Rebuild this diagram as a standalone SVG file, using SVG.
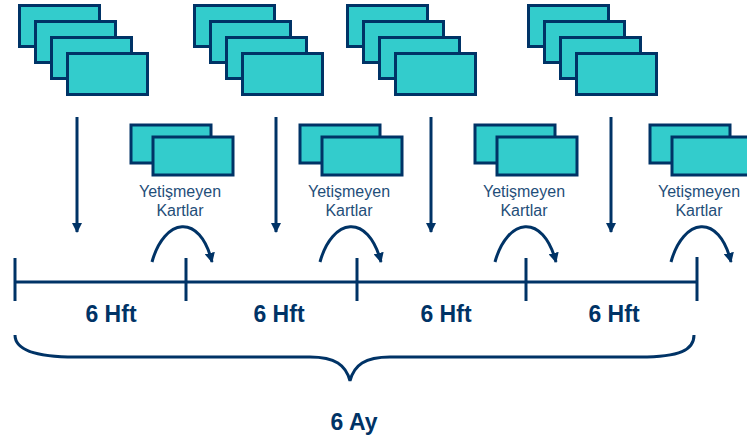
<svg xmlns="http://www.w3.org/2000/svg" width="747" height="440" viewBox="0 0 747 440">
<style>
.card{fill:#33CCCC;stroke:#003366;stroke-width:3}
.ln{stroke:#003366;stroke-width:3;fill:none}
.lbl{font-family:"Liberation Sans",Arial,sans-serif;font-size:16px;fill:#1F4E79;text-anchor:middle}
.big{font-family:"Liberation Sans",Arial,sans-serif;font-size:23px;font-weight:bold;fill:#003366;text-anchor:middle}
</style>
<defs>
<marker id="ah" viewBox="0 0 10 10" refX="9" refY="5" markerWidth="3.4" markerHeight="3.4" orient="auto" markerUnits="strokeWidth">
<path d="M0,0 L10,5 L0,10 z" fill="#003366"/>
</marker>
<g id="stack4">
<rect class="card" x="0" y="0" width="80" height="41"/>
<rect class="card" x="16" y="16" width="80" height="41"/>
<rect class="card" x="32" y="32" width="80" height="41"/>
<rect class="card" x="48" y="48" width="80" height="41"/>
</g>
<g id="stack2">
<rect class="card" x="0" y="0" width="80" height="38"/>
<rect class="card" x="22" y="12" width="80" height="38"/>
</g>
</defs>
<g id="cards1"><use href="#stack4" x="19.5" y="5.5"/></g>
<g id="cards2"><use href="#stack4" x="194.5" y="5.5"/></g>
<g id="cards3"><use href="#stack4" x="347.5" y="5.5"/></g>
<g id="cards4"><use href="#stack4" x="528.5" y="5.5"/></g>
<g id="late1"><use href="#stack2" x="131" y="125"/><text class="lbl" x="180" y="197">Yetişmeyen</text><text class="lbl" x="180" y="216">Kartlar</text></g>
<g id="late2"><use href="#stack2" x="300" y="125"/><text class="lbl" x="349" y="197">Yetişmeyen</text><text class="lbl" x="349" y="216">Kartlar</text></g>
<g id="late3"><use href="#stack2" x="475" y="125"/><text class="lbl" x="524" y="197">Yetişmeyen</text><text class="lbl" x="524" y="216">Kartlar</text></g>
<g id="late4"><use href="#stack2" x="650" y="125"/><text class="lbl" x="699" y="197">Yetişmeyen</text><text class="lbl" x="699" y="216">Kartlar</text></g>
<g id="timeline">
<line class="ln" x1="15" y1="282" x2="697" y2="282"/>
<line class="ln" x1="15" y1="258" x2="15" y2="301"/>
<line class="ln" x1="186" y1="258" x2="186" y2="301"/>
<line class="ln" x1="357" y1="258" x2="357" y2="301"/>
<line class="ln" x1="526" y1="258" x2="526" y2="301"/>
<line class="ln" x1="697" y1="257" x2="697" y2="301"/>
<text class="big" x="111" y="322">6 Hft</text>
<text class="big" x="279" y="322">6 Hft</text>
<text class="big" x="446" y="322">6 Hft</text>
<text class="big" x="614" y="322">6 Hft</text>
</g>
<g id="brace">
<path class="ln" d="M15,335 C15,350 35,357 75,357 L310,357 C335,357 346,365 350,381 C354,365 365,357 390,357 L640,357 C680,357 694,350 694,335"/>
<text class="big" x="354" y="430">6 Ay</text>
</g>
<g id="connectors">
<line class="ln" x1="77" y1="117" x2="77" y2="232" marker-end="url(#ah)"/>
<line class="ln" x1="276" y1="117" x2="276" y2="232" marker-end="url(#ah)"/>
<line class="ln" x1="431" y1="117" x2="431" y2="232" marker-end="url(#ah)"/>
<line class="ln" x1="611" y1="117" x2="611" y2="232" marker-end="url(#ah)"/>
<path class="ln" d="M152,262 C164,218 200,212 212,262" marker-end="url(#ah)"/>
<path class="ln" d="M320,262 C332,218 368,212 381,262" marker-end="url(#ah)"/>
<path class="ln" d="M495,262 C507,218 543,212 556,262" marker-end="url(#ah)"/>
<path class="ln" d="M671,262 C683,218 719,212 731,262" marker-end="url(#ah)"/>
</g>
</svg>
